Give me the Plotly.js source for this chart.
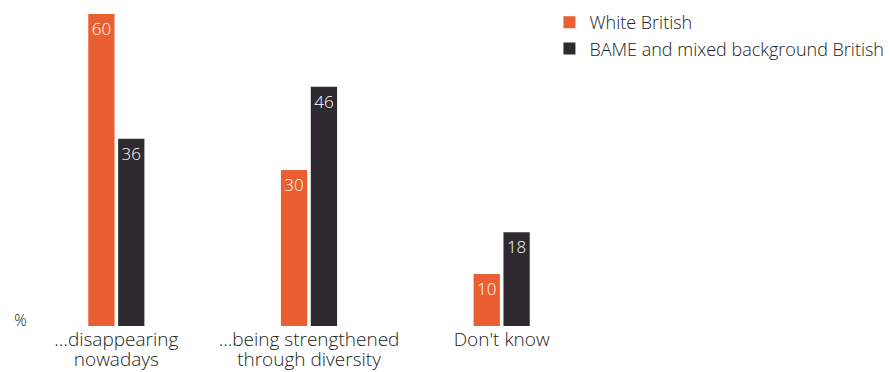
<!DOCTYPE html>
<html><head><meta charset="utf-8">
<script src="https://cdn.plot.ly/plotly-3.0.1.min.js"></script>
<style>body{margin:0;background:#fff}#chart{width:890px;height:372px}</style>
</head><body><div id="chart"></div>
<script>
const categories = ["…disappearing<br>nowadays", "…being strengthened<br>through diversity", "Don't know"];
const seriesNames = ["White British", "BAME and mixed background British"];
const whiteBritish = [60, 30, 10];
const bameBritish = [36, 46, 18];
const colors = ["#E95F32", "#2E2A30"];
const FONT = "'Open Sans', sans-serif";

const traces = [whiteBritish, bameBritish].map((vals, i) => ({
  type: 'bar', name: seriesNames[i], x: categories, y: vals,
  marker: {color: colors[i]},
  text: vals.map(String), textposition: 'inside', insidetextanchor: 'end',
  textfont: {color: '#ffffff', size: 17, family: FONT, weight: 300},
  hoverinfo: 'none'
}));

const layout = {
  width: 890, height: 372,
  margin: {l: 19.5, r: 291.5, t: 4, b: 46, autoexpand: false},
  barmode: 'group', bargap: 0.69, bargroupgap: 0.12,
  font: {family: FONT, color: '#222222', size: 18, weight: 300},
  paper_bgcolor: '#ffffff', plot_bgcolor: '#ffffff',
  xaxis: {range: [-0.5, 2.5], showgrid: false, zeroline: false, showline: false, ticks: '',
          tickfont: {size: 19, color: '#222222', family: FONT, weight: 300}},
  yaxis: {range: [0, 61.9], visible: false},
  showlegend: true,
  legend: {x: 0.916, y: 1.0, xanchor: 'left', yanchor: 'top', font: {size: 18, color: '#222222', family: FONT, weight: 300},
           itemwidth: 30},
  annotations: [{text: '%', xref: 'paper', yref: 'paper', x: -0.013, y: 0.0, xanchor: 'left', yanchor: 'bottom',
                 yshift: -7, showarrow: false, font: {size: 16, color: '#222222', family: FONT, weight: 300}}]
};
Plotly.newPlot('chart', traces, layout, {displayModeBar: false, staticPlot: true}).then(gd => {
  gd.querySelectorAll('.xtick text tspan.line').forEach(t => {
    if (t.getAttribute('dy') && t.getAttribute('dy') !== '0em') t.setAttribute('dy', '1.05em');
  });
});
</script></body></html>
